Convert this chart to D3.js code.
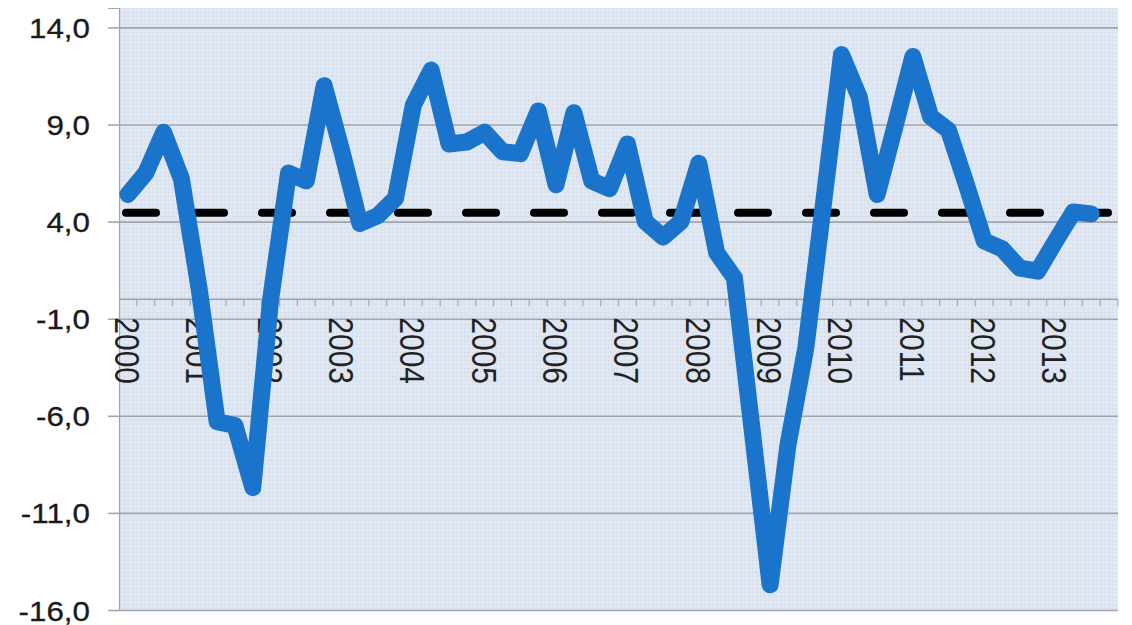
<!DOCTYPE html>
<html>
<head>
<meta charset="utf-8">
<script src="https://cdn.jsdelivr.net/npm/d3@7"></script>
<style>
  body { margin: 0; background: #fff; }
  text { font-family: "Liberation Sans", Arial, sans-serif; }
</style>
</head>
<body>
<div id="chart"></div>
<script>
// quarterly growth, 2000 Q1 .. 2013 Q3
var years = ["2000","2001","2002","2003","2004","2005","2006","2007","2008","2009","2010","2011","2012","2013"];
var quarterNames = ["Q1","Q2","Q3","Q4"];
var growth = [
  5.4, 6.5, 8.6, 6.2,
  0.5, -6.3, -6.5, -9.7,
  0.0, 6.5, 6.1, 11.0,
  7.6, 3.9, 4.3, 5.2,
  10.0, 11.8, 8.0, 8.1,
  8.6, 7.6, 7.5, 9.7,
  5.9, 9.6, 6.1, 5.7,
  8.0, 4.0, 3.2, 4.0,
  7.0, 2.4, 1.1, -6.8,
  -14.7, -7.5, -2.5, 5.0,
  12.6, 10.4, 5.4, 8.9,
  12.5, 9.4, 8.7, 5.9,
  3.0, 2.6, 1.6, 1.45,
  3.0, 4.5, 4.4
];
var average = 4.45;
var yTicks = [14, 9, 4, -1, -6, -11, -16];

var width = 1132;
var height = 625;
var plotLeft = 119, plotRight = 1118, plotTop = 8, plotBottom = 610;

var quarters = [];
years.forEach(function(y) {
  quarterNames.forEach(function(q) { quarters.push(y + q); });
});

var svg = d3.select("#chart")
  .append("svg")
  .attr("width", width)
  .attr("height", height);

// dotted background texture
var defs = svg.append("defs");
var pat = defs.append("pattern")
  .attr("id", "bgDots")
  .attr("width", 4)
  .attr("height", 4)
  .attr("patternUnits", "userSpaceOnUse");
pat.append("rect").attr("width", 4).attr("height", 4).attr("fill", "#dee6f1");
pat.append("rect").attr("width", 1).attr("height", 1).attr("fill", "#cdd6e4");
pat.append("rect").attr("x", 2).attr("y", 2).attr("width", 1).attr("height", 1).attr("fill", "#e6ecf5");

svg.append("rect")
  .attr("x", plotLeft)
  .attr("y", plotTop)
  .attr("width", plotRight - plotLeft)
  .attr("height", plotBottom - plotTop)
  .attr("fill", "url(#bgDots)");

var x = d3.scaleBand()
  .domain(quarters)
  .range([plotLeft, plotRight]);

var y = d3.scaleLinear()
  .domain([-16, 15])
  .range([plotBottom, plotTop]);

// gridlines
svg.append("g")
  .attr("class", "grid")
  .attr("transform", "translate(" + plotLeft + ",0)")
  .call(d3.axisLeft(y).tickValues(yTicks).tickSize(-(plotRight - plotLeft)).tickFormat(""))
  .call(function(g) {
    g.select(".domain").remove();
    g.selectAll("line").attr("stroke", "#a2a6ad").attr("stroke-width", 1.6);
  });

// y axis with labels
svg.append("g")
  .attr("class", "Yaxis")
  .attr("transform", "translate(" + plotLeft + ",0)")
  .call(d3.axisLeft(y).tickValues(yTicks).tickSize(11)
    .tickFormat(function(d) { return d3.format(".1f")(d).replace(".", ",").replace("−", "-"); }))
  .call(function(g) {
    g.select(".domain").attr("stroke", "#a2a6ad").attr("stroke-width", 1.2);
    g.selectAll("line").attr("stroke", "#a2a6ad").attr("stroke-width", 1.6);
    g.selectAll("text")
      .attr("x", 0)
      .attr("dy", "0.36em")
      .attr("transform", "translate(-29,0) scale(1.12,1)")
      .attr("font-size", 28)
      .attr("fill", "#1a1a1a")
      .attr("stroke", "#1a1a1a")
      .attr("stroke-width", 0.3);
  });

// x axis at zero with quarterly ticks
var x0 = y(0);
svg.append("line")
  .attr("x1", plotLeft).attr("x2", plotRight)
  .attr("y1", x0).attr("y2", x0)
  .attr("stroke", "#9ea3aa")
  .attr("stroke-width", 1.6);

svg.append("g")
  .selectAll("line")
  .data(quarters)
  .enter()
  .append("line")
  .attr("x1", function(d) { return x(d) + x.bandwidth(); })
  .attr("x2", function(d) { return x(d) + x.bandwidth(); })
  .attr("y1", x0)
  .attr("y2", x0 + 7)
  .attr("stroke", "#a7abb2")
  .attr("stroke-width", 1.2);

// year labels, rotated
svg.append("g")
  .selectAll("text")
  .data(years)
  .enter()
  .append("text")
  .attr("transform", function(d) {
    var cx = x(d + "Q1") + x.bandwidth() / 2 - 1;
    return "translate(" + cx + "," + (x0 + 18) + ") rotate(90) scale(1,1.15)";
  })
  .attr("dy", "0.35em")
  .attr("font-size", 30)
  .attr("fill", "#222")
  .text(function(d) { return d; });

// average, dashed
svg.append("line")
  .attr("x1", plotLeft + 7)
  .attr("x2", plotRight - 2)
  .attr("y1", y(average))
  .attr("y2", y(average))
  .attr("stroke", "#000")
  .attr("stroke-width", 8)
  .attr("stroke-dasharray", "30,38")
  .attr("stroke-linecap", "round");

// growth line
var line = d3.line()
  .x(function(d, i) { return x(quarters[i]) + x.bandwidth() / 2; })
  .y(function(d) { return y(d); });

svg.append("path")
  .datum(growth)
  .attr("d", line)
  .attr("fill", "none")
  .attr("stroke", "#1b74cc")
  .attr("stroke-width", 17)
  .attr("stroke-linejoin", "round")
  .attr("stroke-linecap", "round");
</script>
</body>
</html>
